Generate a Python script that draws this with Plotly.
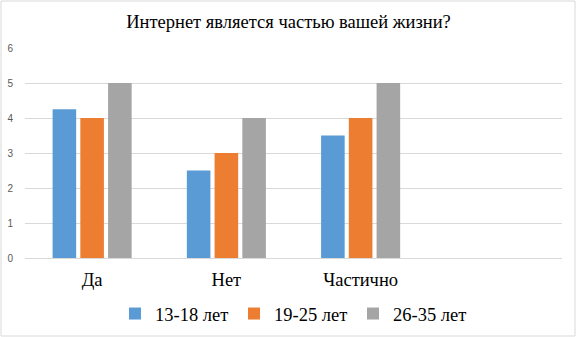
import plotly.graph_objects as go

categories = ["Да", "Нет", "Частично"]
series_names = ["13-18 лет", "19-25 лет", "26-35 лет"]
values_13_18 = [4.25, 2.5, 3.5]
values_19_25 = [4, 3, 4]
values_26_35 = [5, 4, 5]
colors = ["#5B9BD5", "#ED7D31", "#A5A5A5"]
y_ticks = [0, 1, 2, 3, 4, 5, 6]

SERIF = "Liberation Serif, Times New Roman, serif"
W, H = 577, 337
ml, mr, mt, mb = 25, 15, 48, 79
pw, ph = W - ml - mr, H - mt - mb

x_pos = list(range(len(categories)))
fig = go.Figure()
for name, vals, c in zip(series_names, [values_13_18, values_19_25, values_26_35], colors):
    fig.add_trace(go.Bar(x=x_pos, y=vals, name=name, marker=dict(color=c, line=dict(width=0))))

fig.update_layout(
    width=W, height=H,
    margin=dict(l=ml, r=mr, t=mt, b=mb, autoexpand=False),
    paper_bgcolor="white", plot_bgcolor="white",
    barmode="group", bargap=0.38, bargroupgap=0.15,
    title=dict(text="Интернет является частью вашей жизни?", x=0.5, xanchor="center",
               y=1 - 22 / H, yanchor="middle",
               font=dict(family=SERIF, size=18.5, color="#000000")),
    xaxis=dict(range=[-0.5, 3.5], tickvals=x_pos, ticktext=categories, showgrid=False,
               zeroline=False, showline=False, ticks="", ticklabelstandoff=8, automargin=False,
               tickfont=dict(family=SERIF, size=18.5, color="#000000")),
    yaxis=dict(range=[0, 6], tickvals=y_ticks, showgrid=True, gridcolor="#D9D9D9", gridwidth=1,
               zeroline=True, zerolinecolor="#D9D9D9", zerolinewidth=1, ticks="",
               ticklabelstandoff=11, automargin=False,
               tickfont=dict(family="Liberation Sans", size=10, color="#595959")),
    legend=dict(orientation="h", x=0.5, xanchor="center", y=-(314 - (mt + ph)) / ph, yanchor="middle",
                font=dict(family=SERIF, size=18.5, color="#000000"), bgcolor="rgba(0,0,0,0)",
                itemwidth=30, tracegroupgap=0, entrywidth=74),
    shapes=[dict(type="rect", xref="paper", yref="paper",
                 x0=-(ml - 1) / pw, x1=(W - 2 - ml) / pw,
                 y0=-(H - 1 - (mt + ph)) / ph, y1=(mt + ph - 1) / ph,
                 line=dict(color="#D9D9D9", width=1), fillcolor="rgba(0,0,0,0)", layer="below")],
    showlegend=True,
)

fig.write_html("out.html")
